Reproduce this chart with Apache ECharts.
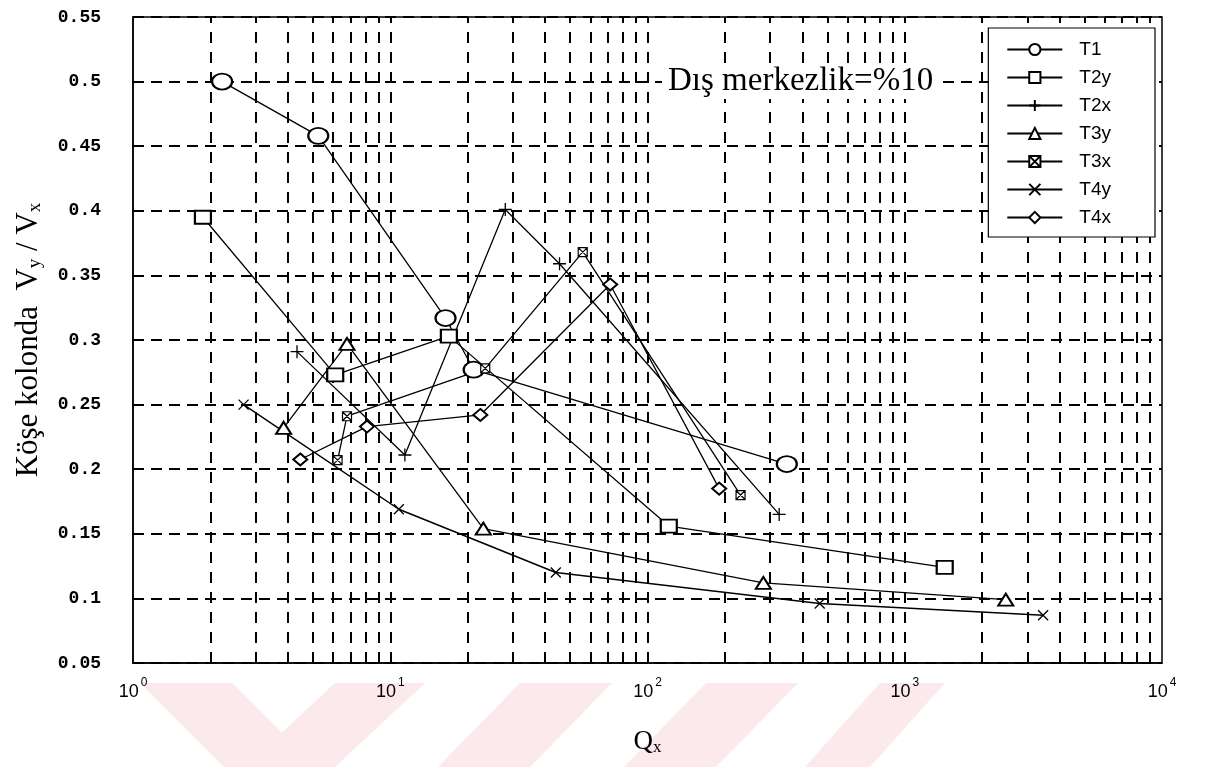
<!DOCTYPE html>
<html>
<head>
<meta charset="utf-8">
<script src="https://cdn.jsdelivr.net/npm/echarts@6/dist/echarts.min.js"></script>
<style>
  html, body { margin: 0; padding: 0; background: #fff; }
  #chart { width: 1208px; height: 767px; }
</style>
</head>
<body>
<div id="chart"></div>
<script>
// values: [Qx, Vy/Vx]
const t1 = [[2.22, 0.5], [5.25, 0.458], [16.4, 0.317], [21.1, 0.277], [348, 0.204]]
const t2y = [[1.87, 0.395], [6.11, 0.273], [16.9, 0.303], [121, 0.156], [1430, 0.124]]
const t2x = [[4.34, 0.291], [11.4, 0.211], [28, 0.401], [45.5, 0.359], [325, 0.165]]
const t3y = [[3.85, 0.232], [6.79, 0.297], [23, 0.154], [282, 0.112], [2470, 0.099]]
const t3x = [[6.24, 0.207], [6.79, 0.241], [23.4, 0.278], [56, 0.368], [230, 0.18]]
const t4y = [[2.69, 0.25], [10.8, 0.169], [44, 0.12], [467, 0.096], [3450, 0.087]]
const t4x = [[4.47, 0.2075], [8.12, 0.233], [22.4, 0.242], [71.6, 0.343], [190, 0.185]]

const seriesNames = ['T1', 'T2y', 'T2x', 'T3y', 'T3x', 'T4y', 'T4x']
const decades = [1, 10, 100, 1000]
const subSteps = [2, 3, 4, 5, 6, 7, 8, 9, 10]

// vertical log grid lines (2..9 and each power of ten)
let xGrid = []
decades.forEach(d => subSteps.forEach(s => {
  if (d * s < 10000) xGrid.push(d * s)
}))

const plusPath = 'path://M0,5L10,5M5,0L5,10'
const crossPath = 'path://M0,0L10,10M10,0L0,10'
const boxPath = 'path://M0,0L10,0L10,10L0,10ZM0,0L10,10M10,0L0,10'

function mk(name, data, symbol, size, extra) {
  return Object.assign({
    name: name,
    type: 'line',
    data: data,
    symbol: symbol,
    symbolSize: size,
    showSymbol: true,
    z: 5,
    lineStyle: { color: '#000', width: 1.3 },
    itemStyle: { color: '#000', borderColor: '#000', borderWidth: 1.3 },
    emphasis: { disabled: true }
  }, extra || {})
}

// faint pink watermark bands under the axis
const pink = '#fce9ec'
const bands = [
  [[140, 683], [232, 683], [316, 767], [224, 767]],
  [[335, 683], [425, 683], [335, 767], [245, 767]],
  [[520, 683], [612, 683], [530, 767], [438, 767]],
  [[706, 683], [798, 683], [716, 767], [624, 767]],
  [[880, 683], [945, 683], [870, 767], [805, 767]]
]

let chart = echarts.init(document.getElementById('chart'))

let option = {
  animation: false,
  backgroundColor: '#fff',
  textStyle: { fontFamily: 'Liberation Sans' },
  grid: {
    left: 133, right: 46, top: 17, bottom: 104,
    show: true, borderColor: '#000', borderWidth: 1.5, backgroundColor: 'transparent'
  },
  legend: {
    data: seriesNames,
    orient: 'vertical',
    right: 53, top: 28,
    z: 20,
    backgroundColor: '#fff',
    borderColor: '#000',
    borderWidth: 1.2,
    padding: [12, 44, 10, 18],
    itemGap: 9,
    itemWidth: 55,
    itemHeight: 14,
    textStyle: { fontSize: 19, color: '#000', fontFamily: 'Liberation Sans', padding: [0, 0, 0, 12] }
  },
  xAxis: {
    type: 'log',
    logBase: 10,
    min: 1,
    max: 10000,
    name: 'Q{s|x}',
    nameLocation: 'middle',
    nameGap: 64,
    nameTextStyle: {
      fontFamily: 'Liberation Serif', fontSize: 27, color: '#000',
      rich: { s: { fontFamily: 'Liberation Serif', fontSize: 17, padding: [12, 0, 0, 0] } }
    },
    axisLine: { show: true, lineStyle: { color: '#000', width: 1.5 } },
    axisTick: { show: false },
    splitLine: { show: false },
    axisLabel: {
      margin: 14,
      color: '#000',
      formatter: v => '{b|10}{p|' + Math.round(Math.log10(v)) + '}',
      rich: {
        b: { fontSize: 18, fontFamily: 'Liberation Sans Narrow, Liberation Sans', color: '#000', verticalAlign: 'bottom' },
        p: { fontSize: 12, fontFamily: 'Liberation Sans', color: '#000', padding: [0, 0, 12, 2], verticalAlign: 'bottom' }
      }
    }
  },
  yAxis: {
    type: 'value',
    min: 0.05,
    max: 0.55,
    interval: 0.05,
    name: 'Köşe kolonda  V{s|y} / V{s|x}',
    nameLocation: 'middle',
    nameGap: 88,
    nameTextStyle: {
      fontFamily: 'Liberation Serif', fontSize: 31, color: '#000',
      rich: { s: { fontFamily: 'Liberation Serif', fontSize: 19, padding: [13, 0, 0, 0] } }
    },
    axisLine: { show: true, lineStyle: { color: '#000', width: 1.5 } },
    axisTick: { show: false },
    axisLabel: {
      margin: 32,
      color: '#000',
      fontFamily: 'Liberation Mono',
      fontWeight: 'bold',
      fontSize: 18,
      formatter: v => String(+v.toFixed(2))
    },
    splitLine: { show: true, lineStyle: { color: '#000', width: 2, type: [11, 7] } }
  },
  graphic: bands.map(p => ({
    type: 'polygon',
    z: -10,
    silent: true,
    shape: { points: p },
    style: { fill: pink }
  })).concat([
    {
      type: 'text',
      left: 662, top: 64, z: 50,
      style: {
        text: 'Dış merkezlik=%10',
        font: '33px "Liberation Serif"',
        fill: '#000',
        backgroundColor: '#fff',
        padding: [1, 6]
      }
    }
  ]),
  series: [
    {
      type: 'line',
      data: [],
      silent: true,
      z: 1,
      markLine: {
        silent: true,
        symbol: 'none',
        label: { show: false },
        animation: false,
        lineStyle: { color: '#000', width: 2, type: [11, 9] },
        data: xGrid.map(v => ({ xAxis: v }))
      }
    },
    mk('T1', t1, 'emptyCircle', [20, 16]),
    mk('T2y', t2y, 'emptyRect', [16, 13]),
    mk('T2x', t2x, plusPath, 13),
    mk('T3y', t3y, 'emptyTriangle', [15, 12]),
    mk('T3x', t3x, boxPath, 9, { itemStyle: { color: '#fff', borderColor: '#000', borderWidth: 1.2 } }),
    mk('T4y', t4y, crossPath, 10, { lineStyle: { color: '#000', width: 1.5 } }),
    mk('T4x', t4x, 'emptyDiamond', [14, 12])
  ]
}

chart.setOption(option)
</script>
</body>
</html>
